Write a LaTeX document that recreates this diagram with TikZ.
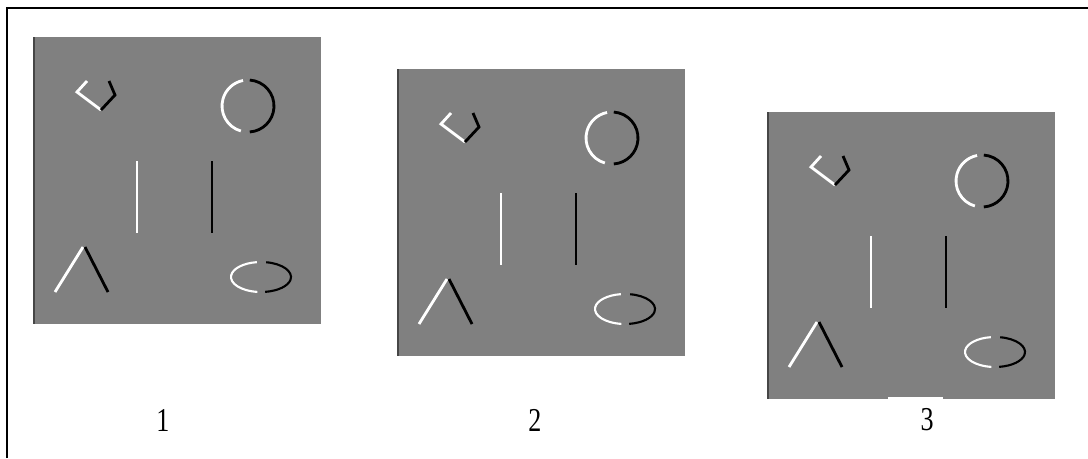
\documentclass[tikz,border=0pt]{standalone}
\usepackage{fontspec}
\setmainfont{Liberation Serif}
\definecolor{panelgray}{RGB}{128,128,128}
\definecolor{edgedark}{RGB}{70,70,70}
\tikzset{
  panel/.style={fill=panelgray, draw=none, inner sep=0pt, minimum width=5.76cm, minimum height=5.74cm, anchor=north west},
  lit/.style={draw=white, line width=1.6pt},
  shadow/.style={draw=black, line width=1.6pt},
  caption/.style={font=\fontsize{19}{21}\selectfont, inner sep=0pt, xscale=0.78},
}
\begin{document}
\begin{tikzpicture}[x=0.02cm,y=-0.02cm]
\useasboundingbox (0,0) rectangle (1088,458);
% frame, open at right and bottom
\draw[line width=1.2pt] (7,458) -- (7,8) -- (1088,8);

% the three embossed panels
\foreach \i/\px/\py in {1/33/37, 2/397/69, 3/767/112} {
  \node[panel] (panel\i) at (\px,\py) {};
  \begin{scope}[shift={(\px,\py)}]
    \draw[edgedark, line width=1pt] (1,0) -- (1,287);
    % pentagon
    \draw[lit] (54,44) -- (44,55) -- (68,73);
    \draw[shadow] (68,73) -- (82,58) -- (76,44);
    % circle
    \draw[lit] (215,69) ++(106:26) arc[start angle=106, end angle=259, radius=26];
    \draw[shadow] (215,69) ++(-86:26) arc[start angle=-86, end angle=86, radius=26];
    % bars
    \draw[lit] (104,124) -- (104,196);
    \draw[shadow] (179,124) -- (179,196);
    % lambda
    \draw[lit] (22,255) -- (50,210);
    \draw[shadow] (52,210) -- (75,255);
    % ellipse
    \draw[lit, line width=1.2pt] (228,240) ++(97:30 and 15) arc[start angle=97, end angle=262, x radius=30, y radius=15];
    \draw[shadow, line width=1.2pt] (228,240) ++(-80:30 and 15) arc[start angle=-80, end angle=82, x radius=30, y radius=15];
  \end{scope}
}
\fill[white] (888,397) rectangle (943,404);

\node[caption] (cap1) at (163,420) {1};
\node[caption] (cap2) at (535,420) {2};
\node[caption] (cap3) at (927,420) {3};
\end{tikzpicture}
\end{document}
